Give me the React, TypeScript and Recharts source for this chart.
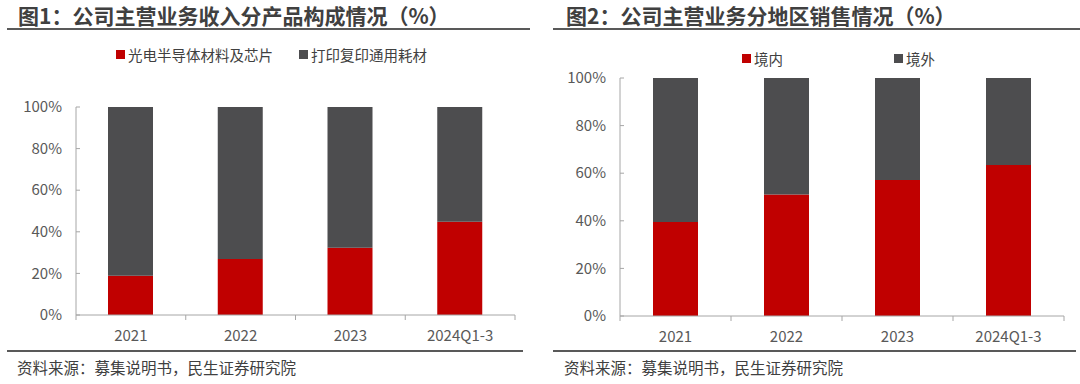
import React from 'react';
import { BarChart, Bar, XAxis, YAxis, Legend } from 'recharts';

const categories = ['2021', '2022', '2023', '2024Q1-3'];
// Chart 1: revenue by product (%)
const semiShare = [18.9, 26.9, 32.3, 44.8];
const consumableShare = [81.1, 73.1, 67.7, 55.2];
// Chart 2: revenue by region (%)
const domesticShare = [39.5, 51.0, 57.1, 63.4];
const overseasShare = [60.5, 49.0, 42.9, 36.6];
const yTicks = [0, 20, 40, 60, 80, 100];

const title1 = '图1：公司主营业务收入分产品构成情况（%）';
const title2 = '图2：公司主营业务分地区销售情况（%）';
const seriesNames1 = ['光电半导体材料及芯片', '打印复印通用耗材'];
const seriesNames2 = ['境内', '境外'];
const source = '资料来源：募集说明书，民生证券研究院';

const RED = '#C00000';
const GRAY = '#4D4D4F';
const AXIS = '#A6A6A6';
const TICK_TEXT = '#595959';
const FONT = '"Noto Sans CJK SC", "Open Sans", sans-serif';

const data1 = categories.map((c, i) => ({ cat: c, a: semiShare[i], b: consumableShare[i] }));
const data2 = categories.map((c, i) => ({ cat: c, a: domesticShare[i], b: overseasShare[i] }));

const makeXTick = (bw: number, n: number) => (props: any) => {
  const { x, y, payload, index } = props;
  const half = bw / 2;
  return (
    <g>
      <line x1={x - half} x2={x - half} y1={y} y2={y + 5} stroke={AXIS} strokeWidth={1} />
      {index === n - 1 && (
        <line x1={x + half} x2={x + half} y1={y} y2={y + 5} stroke={AXIS} strokeWidth={1} />
      )}
      <text x={x} y={y + 26} textAnchor="middle" fontSize={15} fill={TICK_TEXT} fontFamily={FONT}>
        {payload.value}
      </text>
    </g>
  );
};

const YTick = (props: any) => {
  const { x, y, payload } = props;
  return (
    <g>
      <line x1={x} x2={x + 4} y1={y} y2={y} stroke={AXIS} strokeWidth={1} />
      <text x={x - 14} y={y} dy="0.35em" textAnchor="end" fontSize={15} fill={TICK_TEXT} fontFamily={FONT}>
        {`${payload.value}%`}
      </text>
    </g>
  );
};

const makeLegend = (positions: number[], top: number) => (props: any) => {
  const payload = props.payload || [];
  return (
    <div style={{ position: 'relative', width: 540, height: 70 }}>
      {payload.map((p: any, i: number) => (
        <div
          key={i}
          style={{
            position: 'absolute',
            left: positions[i],
            top: top - 10,
            height: 20,
            display: 'flex',
            alignItems: 'center',
            fontFamily: FONT,
            fontSize: 14.5,
            color: '#404040',
            whiteSpace: 'nowrap',
          }}
        >
          <span style={{ display: 'inline-block', width: 9, height: 9, background: p.color, marginRight: 3 }} />
          <span>{p.value}</span>
        </div>
      ))}
    </div>
  );
};

const Title = ({ text, left, lineLeft, lineRight }: any) => (
  <>
    <div
      style={{
        position: 'absolute',
        left,
        top: 3,
        fontFamily: FONT,
        fontWeight: 700,
        fontSize: 21,
        lineHeight: '24px',
        color: '#404040',
        whiteSpace: 'nowrap',
      }}
    >
      {text}
    </div>
    <div style={{ position: 'absolute', left: lineLeft, top: 28, width: lineRight - lineLeft, height: 2, background: '#595959' }} />
  </>
);

const Footer = ({ left, lineLeft, lineRight }: any) => (
  <>
    <div style={{ position: 'absolute', left: lineLeft, top: 350, width: lineRight - lineLeft, height: 2, background: '#595959' }} />
    <div
      style={{
        position: 'absolute',
        left,
        top: 357,
        fontFamily: FONT,
        fontSize: 15.5,
        lineHeight: '20px',
        color: '#404040',
        whiteSpace: 'nowrap',
      }}
    >
      {source}
    </div>
  </>
);

export default function App() {
  const plot1W = 515 - 76;
  const plot2W = 1064 - 620;
  return (
    <div style={{ position: 'absolute', left: 0, top: 0, width: 1080, height: 384, background: '#fff', overflow: 'hidden' }}>
      <Title text={title1} left={18} lineLeft={7} lineRight={530} />
      <Title text={title2} left={566} lineLeft={553} lineRight={1080} />

      <div style={{ position: 'absolute', left: 0, top: 0 }}>
        <BarChart width={540} height={384} data={data1} margin={{ top: 107, right: 25, bottom: 39, left: 0 }}>
          <XAxis
            dataKey="cat"
            height={30}
            axisLine={{ stroke: AXIS }}
            tickLine={false}
            tickSize={0}
            tickMargin={0}
            interval={0}
            tick={makeXTick(plot1W / categories.length, categories.length)}
          />
          <YAxis
            width={76}
            domain={[0, 100]}
            ticks={yTicks}
            axisLine={{ stroke: AXIS }}
            tickLine={false}
            tickSize={0}
            tickMargin={0}
            tick={<YTick />}
            interval={0}
          />
          <Legend
            layout="horizontal"
            verticalAlign="middle"
            align="center"
            wrapperStyle={{ top: 0, left: 0, width: 540, height: 70 }}
            content={makeLegend([116, 299], 54.5)}
          />
          <Bar dataKey="a" name={seriesNames1[0]} stackId="s" fill={RED} barSize={45} isAnimationActive={false} />
          <Bar dataKey="b" name={seriesNames1[1]} stackId="s" fill={GRAY} barSize={45} isAnimationActive={false} />
        </BarChart>
      </div>

      <div style={{ position: 'absolute', left: 540, top: 0 }}>
        <BarChart width={540} height={384} data={data2} margin={{ top: 78, right: 16, bottom: 38, left: 0 }}>
          <XAxis
            dataKey="cat"
            height={30}
            axisLine={{ stroke: AXIS }}
            tickLine={false}
            tickSize={0}
            tickMargin={0}
            interval={0}
            tick={makeXTick(plot2W / categories.length, categories.length)}
          />
          <YAxis
            width={80}
            domain={[0, 100]}
            ticks={yTicks}
            axisLine={{ stroke: AXIS }}
            tickLine={false}
            tickSize={0}
            tickMargin={0}
            tick={<YTick />}
            interval={0}
          />
          <Legend
            layout="horizontal"
            verticalAlign="middle"
            align="center"
            wrapperStyle={{ top: 0, left: 0, width: 540, height: 70 }}
            content={makeLegend([202, 354], 58)}
          />
          <Bar dataKey="a" name={seriesNames2[0]} stackId="s" fill={RED} barSize={45} isAnimationActive={false} />
          <Bar dataKey="b" name={seriesNames2[1]} stackId="s" fill={GRAY} barSize={45} isAnimationActive={false} />
        </BarChart>
      </div>

      <Footer left={17} lineLeft={7} lineRight={523} />
      <Footer left={564} lineLeft={553} lineRight={1076} />
    </div>
  );
}
